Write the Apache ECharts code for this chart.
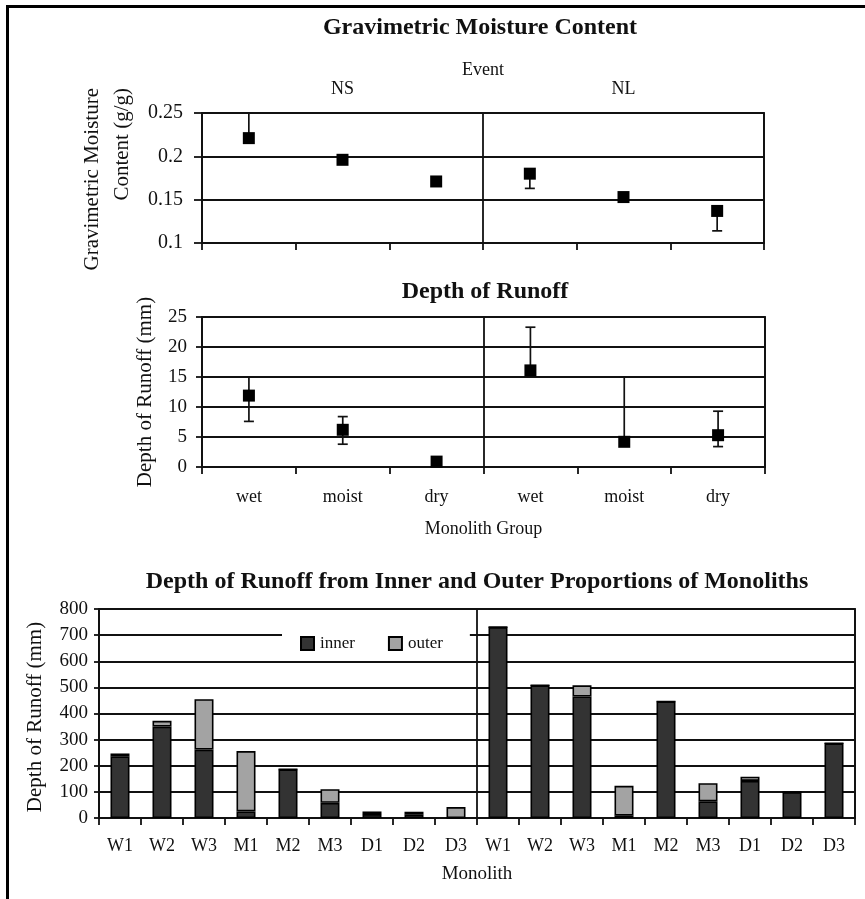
<!DOCTYPE html>
<html>
<head>
<meta charset="utf-8">
<script src="https://cdn.jsdelivr.net/npm/echarts@6/dist/echarts.min.js"></script>
<style>
  html, body { margin: 0; padding: 0; background: #fff; }
  #chart { width: 865px; height: 899px; }
</style>
</head>
<body>
<div id="chart"></div>
<script>
// ---- data ----
const groupCats = ['wet', 'moist', 'dry', 'wet', 'moist', 'dry'];
const eventCats = ['NS', 'NL'];

// Gravimetric moisture content (g/g): mean and error-bar ends
const moisture = [0.221, 0.196, 0.171, 0.180, 0.153, 0.137];
const moistureLow = [0.221, 0.196, 0.171, 0.163, 0.153, 0.114];
const moistureHigh = [0.250, 0.196, 0.171, 0.180, 0.153, 0.137];

// Depth of runoff (mm): mean and error-bar ends
const runoff = [11.9, 6.2, 0.9, 16.1, 4.2, 5.3];
const runoffLow = [7.6, 3.8, 0.9, 16.1, 4.2, 3.4];
const runoffHigh = [15.0, 8.4, 0.9, 23.3, 15.0, 9.3];

// Runoff from inner and outer parts of each monolith (mm)
const monoliths = ['W1', 'W2', 'W3', 'M1', 'M2', 'M3', 'D1', 'D2', 'D3',
                   'W1', 'W2', 'W3', 'M1', 'M2', 'M3', 'D1', 'D2', 'D3'];
const inner = [236, 350, 262, 25, 186, 58, 15, 14, 0,
               731, 508, 465, 9, 446, 64, 142, 99, 286];
const outer = [11, 22, 193, 231, 0, 52, 10, 10, 42,
               0, 0, 43, 114, 0, 69, 16, 0, 0];

const moistureTicks = { min: 0.1, max: 0.25, interval: 0.05 };
const runoffTicks = { min: 0, max: 25, interval: 5 };
const monolithTicks = { min: 0, max: 800, interval: 100 };

// ---- styling ----
const FONT = 'Liberation Serif';
const INK = '#111';
const lineStyle = { color: INK, width: 1.8 };

function errorBars(low, high) {
  return low.map((v, i) => [i, v, high[i]]);
}

function renderErrorBar(params, api) {
  const i = api.value(0);
  const a = api.coord([i, api.value(1)]);
  const b = api.coord([i, api.value(2)]);
  const cap = 5;
  const style = { stroke: INK, lineWidth: 1.7 };
  return {
    type: 'group',
    children: [
      { type: 'line', shape: { x1: a[0], y1: a[1], x2: b[0], y2: b[1] }, style },
      { type: 'line', shape: { x1: a[0] - cap, y1: a[1], x2: a[0] + cap, y2: a[1] }, style },
      { type: 'line', shape: { x1: b[0] - cap, y1: b[1], x2: b[0] + cap, y2: b[1] }, style }
    ]
  };
}

function valueAxis(gridIndex, ticks, fontSize, tickLen, margin) {
  return {
    type: 'value', gridIndex,
    min: ticks.min, max: ticks.max, interval: ticks.interval,
    axisLine: { show: true, lineStyle },
    axisTick: { show: true, length: tickLen, lineStyle },
    axisLabel: { color: INK, fontFamily: FONT, fontSize, margin,
                 formatter: v => String(+v.toFixed(2)) },
    splitLine: { show: true, lineStyle }
  };
}

function dividerAxis(gridIndex, showLabels) {
  return {
    type: 'category', gridIndex, position: 'top', data: eventCats,
    axisLine: { show: false }, axisTick: { show: false },
    axisLabel: { show: showLabels, color: INK, fontFamily: FONT, fontSize: 18, margin: 15 },
    splitLine: { show: true, lineStyle }
  };
}

const chart = echarts.init(document.getElementById('chart'), null, { renderer: 'canvas' });

const option = {
  animation: false,
  backgroundColor: '#fff',
  grid: [
    { left: 202, top: 113, width: 562, height: 130, show: true, borderColor: INK, borderWidth: 1.8 },
    { left: 202, top: 317, width: 563, height: 150, show: true, borderColor: INK, borderWidth: 1.8 },
    { left: 99, top: 609, width: 756, height: 209, show: true, borderColor: INK, borderWidth: 1.8 }
  ],
  xAxis: [
    {
      type: 'category', gridIndex: 0, data: groupCats,
      axisLine: { show: true, lineStyle },
      axisTick: { show: true, length: 7, lineStyle },
      axisLabel: { show: false }
    },
    Object.assign(dividerAxis(0, true), {
      name: 'Event', nameLocation: 'middle', nameGap: 32,
      nameTextStyle: { color: INK, fontFamily: FONT, fontSize: 18 }
    }),
    {
      type: 'category', gridIndex: 1, data: groupCats,
      axisLine: { show: true, lineStyle },
      axisTick: { show: true, length: 7, lineStyle },
      axisLabel: { color: INK, fontFamily: FONT, fontSize: 18, margin: 21 },
      name: 'Monolith Group', nameLocation: 'middle', nameGap: 53,
      nameTextStyle: { color: INK, fontFamily: FONT, fontSize: 18 }
    },
    dividerAxis(1, false),
    {
      type: 'category', gridIndex: 2, data: monoliths,
      axisLine: { show: true, lineStyle },
      axisTick: { show: true, length: 7, lineStyle },
      axisLabel: { color: INK, fontFamily: FONT, fontSize: 18, margin: 19, interval: 0 },
      name: 'Monolith', nameLocation: 'middle', nameGap: 47,
      nameTextStyle: { color: INK, fontFamily: FONT, fontSize: 19 }
    },
    dividerAxis(2, false)
  ],
  yAxis: [
    valueAxis(0, moistureTicks, 20, 8, 19),
    valueAxis(1, runoffTicks, 19, 6, 15),
    valueAxis(2, monolithTicks, 19, 5, 11)
  ],
  legend: {
    data: ['inner', 'outer'],
    left: 282, top: 628,
    padding: [7, 27, 7, 18],
    backgroundColor: '#fff',
    itemWidth: 13, itemHeight: 13, itemGap: 33,
    icon: 'rect',
    textStyle: { color: INK, fontFamily: FONT, fontSize: 17, padding: [0, 0, 0, 1] }
  },
  series: [
    {
      type: 'custom', xAxisIndex: 0, yAxisIndex: 0, z: 3,
      renderItem: renderErrorBar,
      data: errorBars(moistureLow, moistureHigh),
      encode: { x: 0, y: [1, 2] }
    },
    {
      type: 'scatter', xAxisIndex: 0, yAxisIndex: 0, z: 4,
      symbol: 'rect', symbolSize: 12,
      itemStyle: { color: '#000', opacity: 1 },
      data: moisture
    },
    {
      type: 'custom', xAxisIndex: 2, yAxisIndex: 1, z: 3,
      renderItem: renderErrorBar,
      data: errorBars(runoffLow, runoffHigh),
      encode: { x: 0, y: [1, 2] }
    },
    {
      type: 'scatter', xAxisIndex: 2, yAxisIndex: 1, z: 4,
      symbol: 'rect', symbolSize: 12,
      itemStyle: { color: '#000', opacity: 1 },
      data: runoff
    },
    {
      name: 'inner', type: 'bar', xAxisIndex: 4, yAxisIndex: 2, stack: 'depth',
      barWidth: 19,
      itemStyle: { color: '#333', borderColor: '#000', borderWidth: 1.6 },
      data: inner
    },
    {
      name: 'outer', type: 'bar', xAxisIndex: 4, yAxisIndex: 2, stack: 'depth',
      barWidth: 19,
      itemStyle: { color: '#a3a3a3', borderColor: '#000', borderWidth: 1.6 },
      data: outer
    }
  ],
  graphic: [
    // page frame: top and left rules
    { type: 'rect', shape: { x: 6, y: 5, width: 859, height: 3 }, style: { fill: '#000' } },
    { type: 'rect', shape: { x: 6, y: 5, width: 3, height: 894 }, style: { fill: '#000' } },
    // chart titles
    { type: 'text', x: 480, y: 28, style: { text: 'Gravimetric Moisture Content', textAlign: 'center',
      textVerticalAlign: 'middle', font: 'bold 24px "' + FONT + '"', fill: INK } },
    { type: 'text', x: 485, y: 292, style: { text: 'Depth of Runoff', textAlign: 'center',
      textVerticalAlign: 'middle', font: 'bold 24px "' + FONT + '"', fill: INK } },
    { type: 'text', x: 477, y: 582, style: { text: 'Depth of Runoff from Inner and Outer Proportions of Monoliths',
      textAlign: 'center', textVerticalAlign: 'middle', font: 'bold 24px "' + FONT + '"', fill: INK } },
    // y-axis names
    { type: 'text', x: 107, y: 88, rotation: Math.PI / 2,
      style: { text: 'Gravimetric Moisture\nContent (g/g)', textAlign: 'right', textVerticalAlign: 'middle',
      font: '21px "' + FONT + '"', lineHeight: 30, fill: INK } },
    { type: 'text', x: 145, y: 392, rotation: Math.PI / 2,
      style: { text: 'Depth of Runoff (mm)', textAlign: 'center', textVerticalAlign: 'middle',
      font: '21px "' + FONT + '"', fill: INK } },
    { type: 'text', x: 35, y: 717, rotation: Math.PI / 2,
      style: { text: 'Depth of Runoff (mm)', textAlign: 'center', textVerticalAlign: 'middle',
      font: '21px "' + FONT + '"', fill: INK } }
  ]
};

chart.setOption(option);
</script>
</body>
</html>
